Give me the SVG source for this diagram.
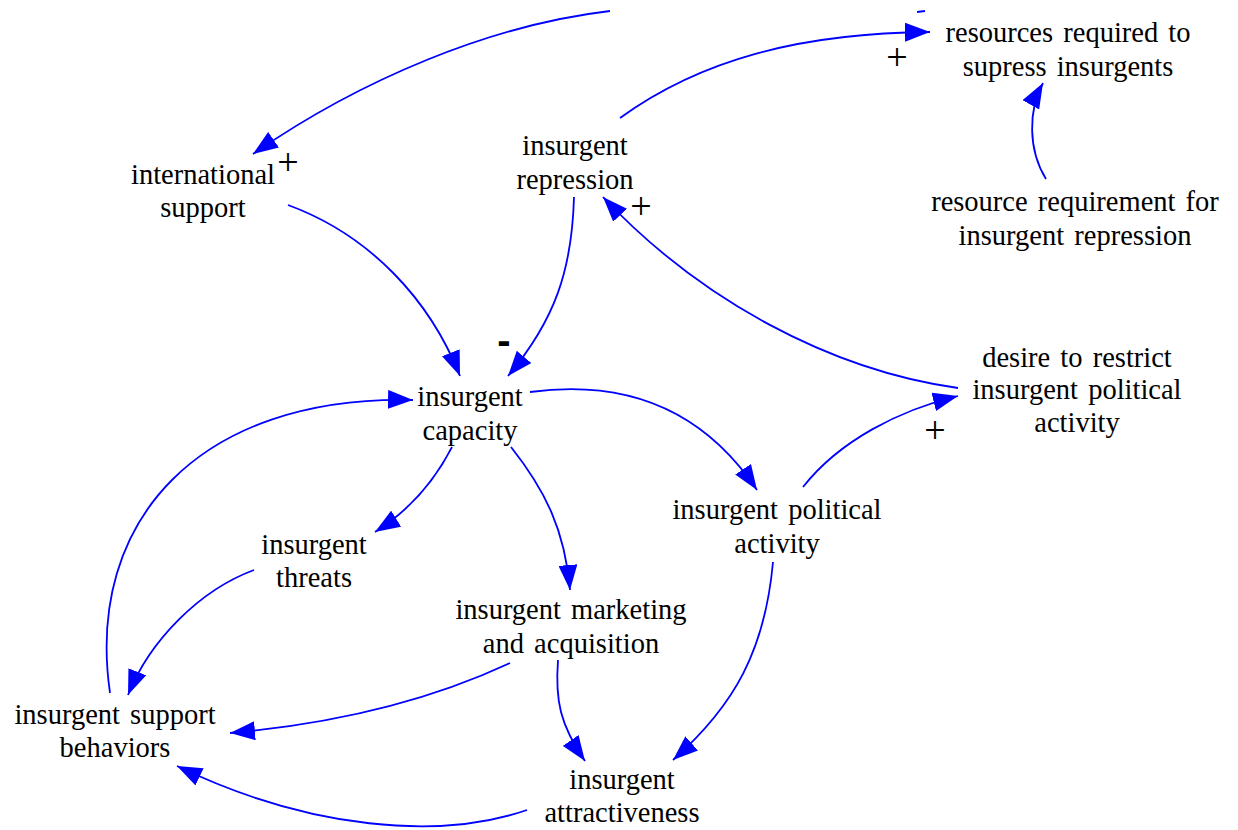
<svg xmlns="http://www.w3.org/2000/svg" width="1238" height="830" viewBox="0 0 1238 830">
<style>
.n text{font-family:"Liberation Serif","Times New Roman",serif;font-size:28.5px;fill:#000;text-anchor:middle;word-spacing:3px}
.c path{fill:none;stroke:#0000FF;stroke-width:1.8}
.pol{font-family:"Liberation Serif","Times New Roman",serif;font-size:38px;fill:#000;text-anchor:middle}
.neg{font-family:"Liberation Sans",Arial,sans-serif;font-weight:bold;font-size:40px;fill:#000;text-anchor:middle}
</style>
<defs>
<marker id="ah" viewBox="0 0 25 19" refX="25" refY="9.5" markerWidth="25" markerHeight="19" markerUnits="userSpaceOnUse" orient="auto">
<path d="M0,0 L25,9.5 L0,19 z" fill="#0000FF"/>
</marker>
</defs>
<rect width="1238" height="830" fill="#fff"/>
<g class="c" id="connectors">
<path d="M610,11 C490,25 360,80 253,154" marker-end="url(#ah)"/>
<path d="M917,12 L925,11"/>
<path d="M620,118 C700,60 800,33 930,32" marker-end="url(#ah)"/>
<path d="M1046,179 C1028,150 1028,110 1043,83" marker-end="url(#ah)"/>
<path d="M288,205 C370,235 430,300 460,376" marker-end="url(#ah)"/>
<path d="M574,197 C572,270 555,320 508,376" marker-end="url(#ah)"/>
<path d="M958,388 C830,370 700,300 603,197" marker-end="url(#ah)"/>
<path d="M530,392 C620,380 700,405 757,490" marker-end="url(#ah)"/>
<path d="M803,487 C840,440 900,410 958,396" marker-end="url(#ah)"/>
<path d="M452,447 C435,480 410,510 375,532" marker-end="url(#ah)"/>
<path d="M511,447 C545,490 565,530 570,590" marker-end="url(#ah)"/>
<path d="M110,693 C85,520 200,395 413,400" marker-end="url(#ah)"/>
<path d="M254,570 C200,590 150,640 128,695" marker-end="url(#ah)"/>
<path d="M510,663 C420,705 320,725 230,733" marker-end="url(#ah)"/>
<path d="M558,660 C555,700 560,725 585,761" marker-end="url(#ah)"/>
<path d="M773,562 C765,650 735,705 673,760" marker-end="url(#ah)"/>
<path d="M527,810 C440,840 310,830 177,766" marker-end="url(#ah)"/>
</g>
<g id="polarities">
<text class="pol" x="288" y="175">+</text>
<text class="pol" x="897" y="70">+</text>
<text class="pol" x="641" y="219">+</text>
<text class="pol" x="935" y="443">+</text>
<text class="neg" x="504" y="354">-</text>
</g>
<g class="n" id="resources_required"><text x="1068" y="42">resources required to</text><text x="1068" y="76">supress insurgents</text></g>
<g class="n" id="international_support"><text x="203" y="184">international</text><text x="203" y="217">support</text></g>
<g class="n" id="insurgent_repression"><text x="575" y="155">insurgent</text><text x="575" y="189">repression</text></g>
<g class="n" id="resource_requirement"><text x="1075" y="211">resource requirement for</text><text x="1075" y="245">insurgent repression</text></g>
<g class="n" id="desire_restrict"><text x="1077" y="367">desire to restrict</text><text x="1077" y="399">insurgent political</text><text x="1077" y="432">activity</text></g>
<g class="n" id="insurgent_capacity"><text x="470" y="406">insurgent</text><text x="470" y="440">capacity</text></g>
<g class="n" id="insurgent_threats"><text x="314" y="554">insurgent</text><text x="314" y="587">threats</text></g>
<g class="n" id="insurgent_political_activity"><text x="777" y="519">insurgent political</text><text x="777" y="553">activity</text></g>
<g class="n" id="insurgent_marketing"><text x="571" y="619">insurgent marketing</text><text x="571" y="653">and acquisition</text></g>
<g class="n" id="insurgent_support_behaviors"><text x="115" y="724">insurgent support</text><text x="115" y="757">behaviors</text></g>
<g class="n" id="insurgent_attractiveness"><text x="622" y="789">insurgent</text><text x="622" y="822">attractiveness</text></g>
</svg>
